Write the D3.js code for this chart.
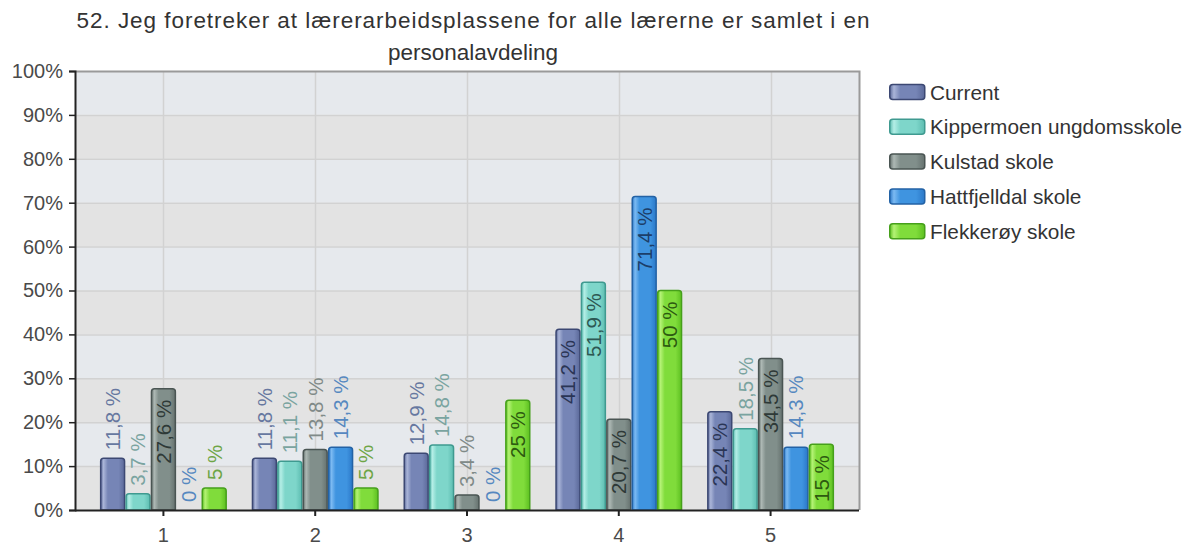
<!DOCTYPE html>
<html><head><meta charset="utf-8">
<script src="https://cdn.jsdelivr.net/npm/d3@7"></script>
<style>
html,body{margin:0;padding:0;background:#fff;}
text{font-family:"Liberation Sans",Arial,Helvetica,sans-serif;}
</style></head>
<body><svg id="chart" width="1192" height="547"></svg>
<script>
const titleLines = ["52. Jeg foretreker at lærerarbeidsplassene for alle lærerne er samlet i en", "personalavdeling"];
const categories = ["1", "2", "3", "4", "5"];
const seriesNames = ["Current", "Kippermoen ungdomsskole", "Kulstad skole", "Hattfjelldal skole", "Flekkerøy skole"];
const current      = [11.8, 11.8, 12.9, 41.2, 22.4];
const kippermoen   = [3.7, 11.1, 14.8, 51.9, 18.5];
const kulstad      = [27.6, 13.8, 3.4, 20.7, 34.5];
const hattfjelldal = [0, 14.3, 0, 71.4, 14.3];
const flekkeroy    = [5, 5, 25, 50, 15];
const yTicks = [0, 10, 20, 30, 40, 50, 60, 70, 80, 90, 100];

const seriesValues = [current, kippermoen, kulstad, hattfjelldal, flekkeroy];
const palette = [
  {base:"#7685b6", light:"#aab5d8", dark:"#5b6999", stroke:"#3c4873", out:"#6778a0", inn:"#2a3555"},
  {base:"#7ed6ca", light:"#b4eee6", dark:"#5dbdb1", stroke:"#3f9a90", out:"#7aa4a0", inn:"#2d5853"},
  {base:"#818f8b", light:"#adb8b4", dark:"#66726f", stroke:"#4a5553", out:"#808a88", inn:"#2e3937"},
  {base:"#3f94e0", light:"#7cbaf2", dark:"#2b78c8", stroke:"#2362a5", out:"#5688c0", inn:"#1c3e69"},
  {base:"#80dc3b", light:"#b4f275", dark:"#5dc021", stroke:"#46a01b", out:"#6ea546", inn:"#2d5a10"}
];

const svg = d3.select("#chart");
const L = 75, R = 859, T = 71, B = 510;

const x = d3.scaleBand().domain(categories).range([L, R]).paddingInner(0).paddingOuter(0.0825);
const xs = d3.scaleBand().domain(seriesNames).range([-63.5, 63.5]).padding(0);
const y = d3.scaleLinear().domain([0, 100]).range([B, T]);

// gradients
const defs = svg.append("defs");
palette.forEach((c, i) => {
  const g = defs.append("linearGradient").attr("id", "g" + i).attr("x1", 0).attr("x2", 1).attr("y1", 0).attr("y2", 0);
  [[0, c.dark], [0.12, c.light], [0.3, c.base], [0.75, c.base], [1, c.dark]].forEach(s =>
    g.append("stop").attr("offset", s[0]).attr("stop-color", s[1]));
});

// background bands
const bands = yTicks.slice(0, -1);
svg.append("g").selectAll("rect").data(bands).join("rect")
  .attr("x", L).attr("width", R - L)
  .attr("y", d => y(d + 10)).attr("height", d => y(d) - y(d + 10))
  .attr("fill", d => ((d / 10) % 2 === 1) ? "#e6e9ed" : "#e3e3e3");
// horizontal grid
svg.append("g").selectAll("line").data(yTicks.slice(1, -1)).join("line")
  .attr("x1", L).attr("x2", R).attr("y1", d => y(d) + 0.5).attr("y2", d => y(d) + 0.5)
  .attr("stroke", "#d2d2d2").attr("stroke-width", 1.5);
// vertical grid
svg.append("g").selectAll("line").data(categories).join("line")
  .attr("x1", d => Math.round(x(d) + x.bandwidth() / 2) + 0.5).attr("x2", d => Math.round(x(d) + x.bandwidth() / 2) + 0.5)
  .attr("y1", T).attr("y2", B).attr("stroke", "#d2d2d2").attr("stroke-width", 1.5);
// top and right border
svg.append("path").attr("d", `M${L},${T + 0.5}H${R + 0.5}V${B}`).attr("fill", "none").attr("stroke", "#9a9a9a").attr("stroke-width", 2);

// bars
const r = 3;
function barPath(x0, w, yTop, yBot) {
  const h = yBot - yTop;
  if (h <= 0) return "";
  const rr = Math.min(r, h, w / 2);
  return `M${x0},${yBot}V${yTop + rr}Q${x0},${yTop} ${x0 + rr},${yTop}H${x0 + w - rr}Q${x0 + w},${yTop} ${x0 + w},${yTop + rr}V${yBot}Z`;
}
const barData = [];
categories.forEach((cat, ci) => {
  seriesNames.forEach((s, si) => {
    barData.push({cat, si, v: seriesValues[si][ci]});
  });
});
const gBars = svg.append("g");
barData.forEach(d => {
  const cx = x(d.cat) + x.bandwidth() / 2;
  const x0 = cx + xs(seriesNames[d.si]);
  const w = xs.bandwidth();
  if (d.v > 0) {
    gBars.append("path").attr("d", barPath(x0 + 0.75, w - 1.5, y(d.v), B))
      .attr("fill", `url(#g${d.si})`).attr("stroke", palette[d.si].stroke).attr("stroke-width", 1.5);
  }
});

// axes
const yAxis = d3.axisLeft(y).tickValues(yTicks).tickFormat(d => d + "%").tickSize(6).tickPadding(6);
const gy = svg.append("g").attr("transform", `translate(${L},0)`).call(yAxis);
gy.select(".domain").attr("stroke", "#222").attr("stroke-width", 2);
gy.selectAll(".tick line").attr("stroke", "#222").attr("stroke-width", 1.5);
gy.selectAll(".tick text").attr("font-size", 20).attr("fill", "#4a4a4a").attr("font-family", "Liberation Sans, Arial, sans-serif");

const xAxis = d3.axisBottom(x).tickSize(6).tickPadding(12);
const gx = svg.append("g").attr("transform", `translate(0,${B})`).call(xAxis);
gx.select(".domain").attr("d", `M${L},0.5H${R}`).attr("stroke", "#222").attr("stroke-width", 2);
gx.selectAll(".tick line").attr("stroke", "#222").attr("stroke-width", 2);
gx.selectAll(".tick text").attr("font-size", 20).attr("fill", "#4a4a4a").attr("font-family", "Liberation Sans, Arial, sans-serif");

// value labels
const fmt = v => String(v).replace(".", ",") + " %";
const gLab = svg.append("g");
barData.forEach(d => {
  const cx = x(d.cat) + x.bandwidth() / 2 + xs(seriesNames[d.si]) + xs.bandwidth() / 2;
  const t = gLab.append("text").attr("font-size", 20.5).text(fmt(d.v)).attr("dy", "0.36em");
  const len = t.node().getComputedTextLength();
  const h = B - y(d.v);
  const inside = len + 18 <= h;
  if (inside) {
    t.attr("text-anchor", "end").attr("fill", palette[d.si].inn)
      .attr("transform", `translate(${cx},${y(d.v) + 11}) rotate(-90)`);
  } else {
    t.attr("text-anchor", "start").attr("fill", palette[d.si].out)
      .attr("transform", `translate(${cx},${y(d.v) - 8}) rotate(-90)`);
  }
});

// title
const titleWidths = [793, 170];
svg.append("g").selectAll("text").data(titleLines).join("text")
  .attr("x", 473).attr("y", (d, i) => 28 + i * 32)
  .attr("text-anchor", "middle").attr("font-size", 22.5).attr("fill", "#333")
  .attr("textLength", (d, i) => titleWidths[i]).attr("lengthAdjust", "spacing")
  .text(d => d);

// legend
const lg = svg.append("g").attr("transform", "translate(889,92)");
seriesNames.forEach((s, i) => {
  const row = lg.append("g").attr("transform", `translate(0,${i * 34.8})`);
  row.append("rect").attr("x", 0.75).attr("y", -7.5).attr("width", 35).attr("height", 15).attr("rx", 3)
    .attr("fill", `url(#g${i})`).attr("stroke", palette[i].stroke).attr("stroke-width", 1.5);
  row.append("text").attr("x", 41).attr("dy", "0.36em").attr("font-size", 20.8).attr("fill", "#333").text(s);
});
</script></body></html>
